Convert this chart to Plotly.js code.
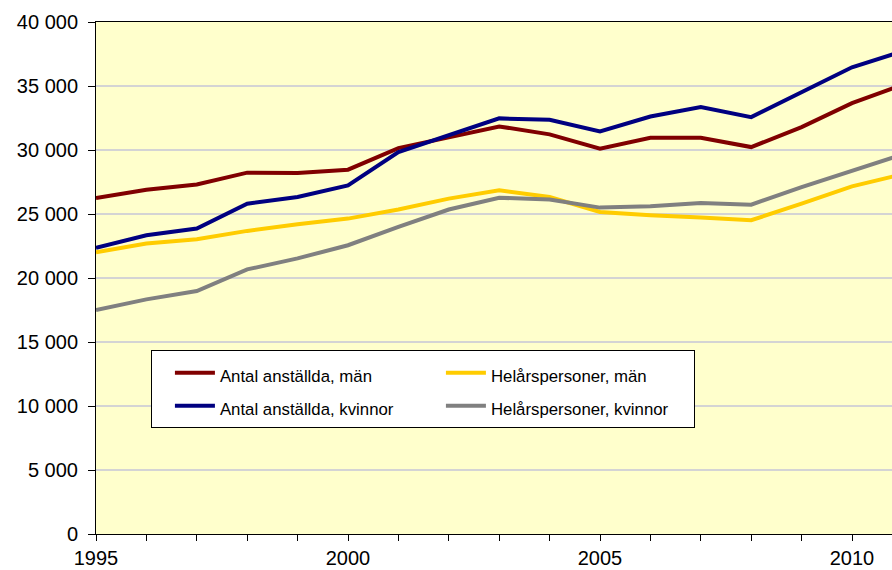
<!DOCTYPE html>
<html>
<head>
<meta charset="utf-8">
<script src="https://cdn.plot.ly/plotly-3.0.1.min.js"></script>
<style>html,body{margin:0;padding:0;background:#fff;}#chart{width:892px;height:570px;}</style>
</head>
<body>
<div id="chart"></div>
<script>
const years = [1995,1996,1997,1998,1999,2000,2001,2002,2003,2004,2005,2006,2007,2008,2009,2010,2011];
const antalMan =     [26250,26900,27300,28230,28200,28460,30150,31000,31840,31220,30100,30960,30960,30230,31790,33660,35100];
const helarMan =     [22000,22700,23030,23680,24200,24640,25350,26200,26850,26330,25160,24900,24720,24510,25810,27160,28100];
const antalKvinnor = [22350,23340,23870,25800,26330,27240,29840,31140,32470,32360,31450,32620,33350,32570,34510,36460,37700];
const helarKvinnor = [17500,18330,18980,20670,21530,22560,23990,25350,26270,26130,25500,25600,25860,25730,27100,28410,29650];

const seriesNames = ["Antal anställda, män","Helårspersoner, män","Antal anställda, kvinnor","Helårspersoner, kvinnor"];
const seriesColors = ["#800000","#FFCC00","#000080","#808080"];
const seriesData = [antalMan, helarMan, antalKvinnor, helarKvinnor];

const xTickVals = years.slice(0,16);
const xTickText = xTickVals.map(y => (y % 5 === 0 ? String(y) : ""));
const yTickVals = [0,5000,10000,15000,20000,25000,30000,35000,40000];
const yTickText = ["0","5 000","10 000","15 000","20 000","25 000","30 000","35 000","40 000"];

const traces = seriesData.map((d,i) => ({
  x: years, y: d, type: "scatter", mode: "lines",
  name: '<span style="font-size:16.8px">' + seriesNames[i] + '</span>',
  line: {color: seriesColors[i], width: 4}
}));

const layout = {
  width: 892, height: 570,
  margin: {l: 96, r: 0, t: 22, b: 35.5},
  paper_bgcolor: "#ffffff", plot_bgcolor: "#FFFFCC",
  font: {family: "Liberation Sans, Arial, sans-serif", size: 20, color: "#000"},
  showlegend: true,
  legend: {
    x: 0.069, xanchor: "left", y: 0.3587, yanchor: "top",
    orientation: "h", entrywidth: 198, entrywidthmode: "pixels",
    indentation: 18,
    bgcolor: "#ffffff", bordercolor: "#000000", borderwidth: 1,
    font: {family: "Liberation Sans, Arial, sans-serif", size: 23},
    itemwidth: 40, traceorder: "normal"
  },
  xaxis: {
    range: [1995, 1995 + 796/50.4], tickvals: xTickVals, ticktext: xTickText,
    ticks: "outside", ticklen: 6, tickcolor: "#000", tickwidth: 1,
    showline: true, linecolor: "#000", linewidth: 1, mirror: true,
    showgrid: false, zeroline: false,
    tickfont: {size: 20}
  },
  yaxis: {
    range: [0, 40000], tickvals: yTickVals, ticktext: yTickText,
    ticks: "outside", ticklen: 7, tickcolor: "#000", tickwidth: 1,
    showline: true, linecolor: "#000", linewidth: 1,
    showgrid: true, gridcolor: "#D4D4D4", gridwidth: 1.5, zeroline: false,
    tickfont: {size: 20}, ticklabelstandoff: 6
  }
};

Plotly.newPlot("chart", traces, layout, {displayModeBar: false, staticPlot: true});
</script>
</body>
</html>
